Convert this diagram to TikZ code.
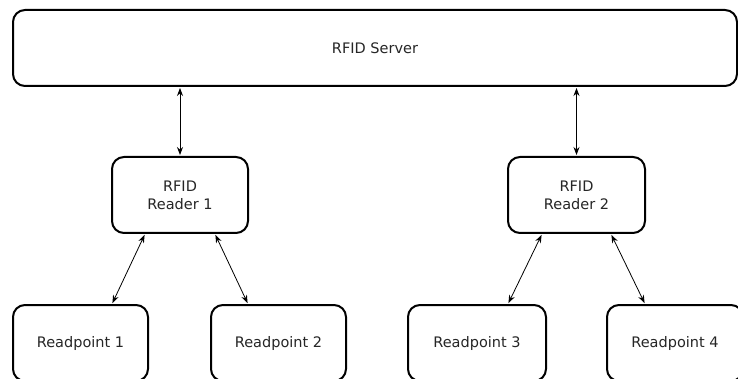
\documentclass[tikz,border=0pt]{standalone}
\usepackage{fontspec}
\setmainfont{DejaVu Sans}
\usetikzlibrary{arrows.meta}
\begin{document}
\begin{tikzpicture}[x=1pt,y=-1pt,
  box/.style={draw=black, line width=2pt, rounded corners=12pt, fill=white,
    minimum height=76pt, inner sep=0pt, align=center,
    font=\fontsize{14.5}{18}\selectfont, text=black!85},
  link/.style={line width=0.8pt, {Stealth[length=8pt,width=6pt]}-{Stealth[length=8pt,width=6pt]}, shorten <=1pt, shorten >=1pt}]
  \useasboundingbox (0,0) rectangle (738,379);

  % server across the top
  \node[box, minimum width=724pt] (server) at (375,48) {RFID Server};

  % readers
  \node[box, minimum width=136pt] (r1) at (180,195) {RFID\\Reader 1};
  \node[box, minimum width=137pt] (r2) at (576.5,195) {RFID\\Reader 2};

  % readpoints
  \node[box, minimum width=135pt] (p1) at (80.5,343) {Readpoint 1};
  \node[box, minimum width=135pt] (p2) at (278.5,343) {Readpoint 2};
  \node[box, minimum width=138pt] (p3) at (477,343) {Readpoint 3};
  \node[box, minimum width=136pt] (p4) at (675,343) {Readpoint 4};

  % connections
  \draw[link] (r1.north) -- (server.south -| r1.north);
  \draw[link] (r2.north) -- (server.south -| r2.north);
  \draw[link] ([xshift=-35pt]r1.south) -- ([xshift=31.5pt]p1.north);
  \draw[link] ([xshift=35pt]r1.south) -- ([xshift=-30.5pt]p2.north);
  \draw[link] ([xshift=-34.5pt]r2.south) -- ([xshift=31pt]p3.north);
  \draw[link] ([xshift=34.5pt]r2.south) -- ([xshift=-30pt]p4.north);
\end{tikzpicture}
\end{document}
